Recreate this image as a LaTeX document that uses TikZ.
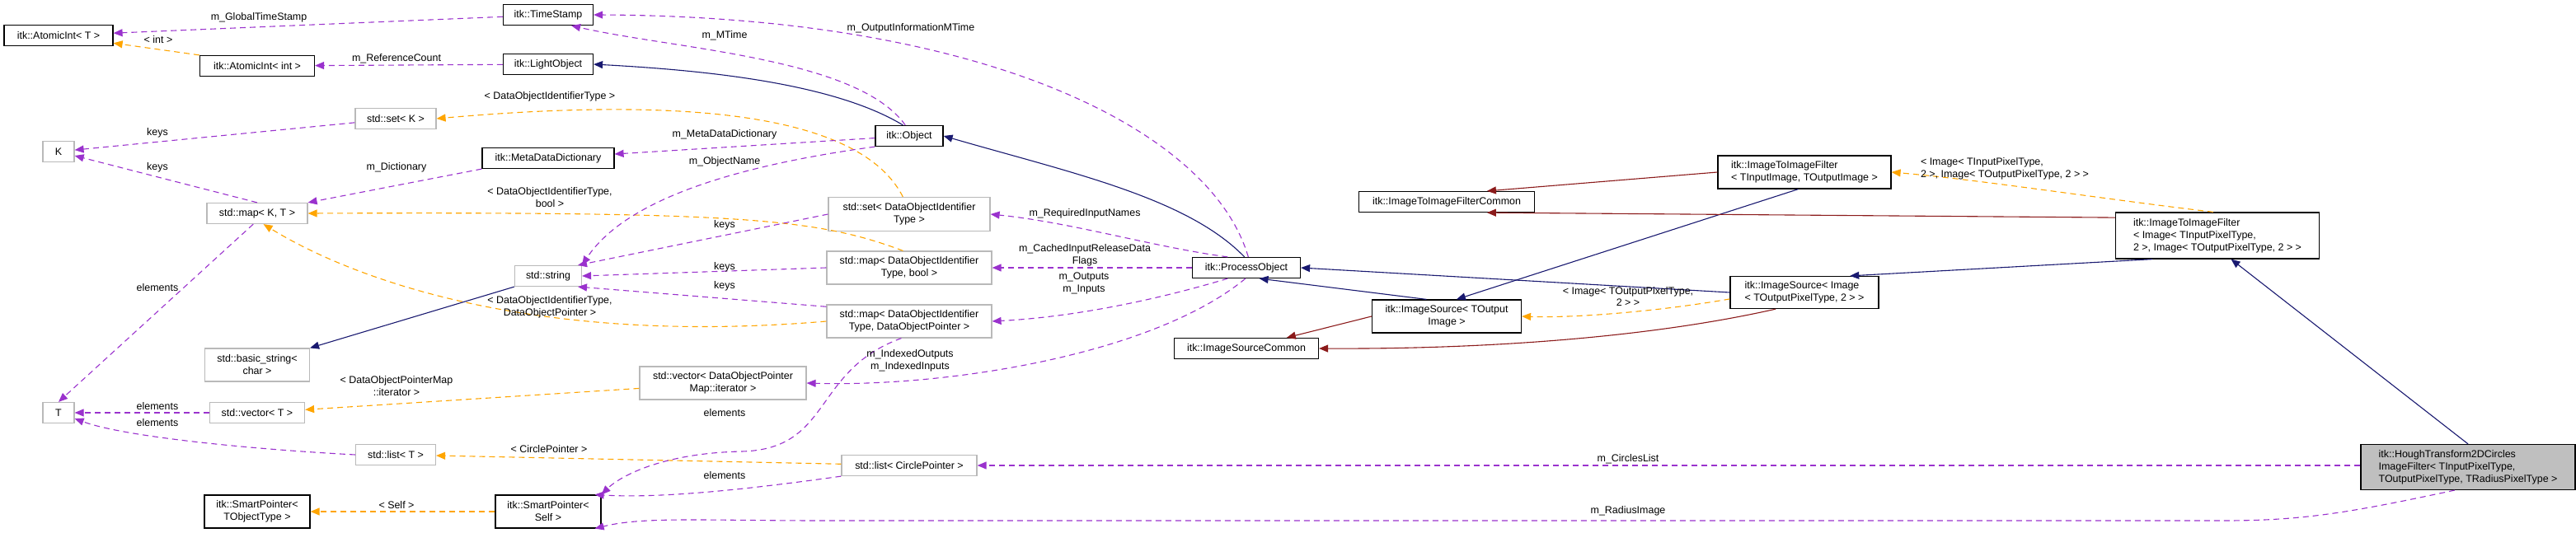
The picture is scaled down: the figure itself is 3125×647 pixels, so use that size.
\documentclass[tikz,border=0pt]{standalone}
\usepackage{fontspec}
\setmainfont{Liberation Sans}
\usetikzlibrary{arrows.meta}
\begin{document}
\begin{tikzpicture}[x=1bp,y=-1bp,
  every node/.style={font=\fontsize{12.5}{15}\selectfont},
  box/.style={draw=black,line width=1.2bp,inner sep=2bp,minimum height=25bp},
  sbox/.style={draw=gray!55,line width=1.2bp,inner sep=2bp,minimum height=25bp},
  lbl/.style={inner sep=0pt,align=center},
  tip/.style={-{Triangle[length=11bp,width=9bp]}},
  pur/.style={tip,draw={rgb,255:red,154;green,50;blue,205},dash pattern=on 7bp off 5bp,line width=1.1bp},
  ora/.style={tip,draw={rgb,255:red,255;green,165;blue,0},dash pattern=on 7bp off 5bp,line width=1.1bp},
  nav/.style={tip,draw={rgb,255:red,25;green,25;blue,112},line width=1.1bp},
  red/.style={tip,draw={rgb,255:red,139;green,26;blue,26},line width=1.1bp}]
\useasboundingbox (0,0) rectangle (3125,647);
% nodes
\node[box,minimum width=132bp] (aiT) at (71,43) {itk::AtomicInt< T >};
\node[box,minimum width=139bp] (aiI) at (312,80) {itk::AtomicInt< int >};
\node[box,minimum width=109bp] (ts) at (665,18) {itk::TimeStamp};
\node[box,minimum width=109bp] (lo) at (665,78) {itk::LightObject};
\node[sbox,minimum width=98bp] (setK) at (480,144) {std::set< K >};
\node[sbox,minimum width=38bp] (K) at (71,184) {K};
\node[box,minimum width=160bp] (mdd) at (665,192) {itk::MetaDataDictionary};
\node[sbox,minimum width=122bp] (mapKT) at (312,259) {std::map< K, T >};
\node[sbox,minimum width=81bp] (str) at (665,335) {std::string};
\node[sbox,minimum width=127bp,minimum height=40bp,align=center] (bs) at (312,443) {std::basic\_string<\\char >};
\node[sbox,minimum width=38bp] (T) at (71,501) {T};
\node[sbox,minimum width=115bp] (vecT) at (312,501) {std::vector< T >};
\node[sbox,minimum width=97bp] (listT) at (480,552) {std::list< T >};
\node[box,minimum width=128bp,minimum height=40bp,align=center] (spT) at (312,621) {itk::SmartPointer<\\TObjectType >};
\node[box,minimum width=128bp,minimum height=40bp,align=center] (spS) at (665,621) {itk::SmartPointer<\\Self >};
\node[box,minimum width=82bp] (obj) at (1103,165) {itk::Object};
\node[sbox,minimum width=196bp,minimum height=41bp,align=center] (setD) at (1103,260) {std::set< DataObjectIdentifier\\Type >};
\node[sbox,minimum width=200bp,minimum height=40bp,align=center] (mapB) at (1103,325) {std::map< DataObjectIdentifier\\Type, bool >};
\node[sbox,minimum width=200bp,minimum height=40bp,align=center] (mapP) at (1103,390) {std::map< DataObjectIdentifier\\Type, DataObjectPointer >};
\node[sbox,minimum width=202bp,minimum height=40bp,align=center] (vecD) at (877,465) {std::vector< DataObjectPointer\\Map::iterator >};
\node[sbox,minimum width=164bp] (listC) at (1103,565) {std::list< CirclePointer >};
\node[box,minimum width=131bp] (po) at (1512,325) {itk::ProcessObject};
\node[box,minimum width=175bp] (isc) at (1512,423) {itk::ImageSourceCommon};
\node[box,minimum width=213bp] (ific) at (1755,245) {itk::ImageToImageFilterCommon};
\node[box,minimum width=210bp,minimum height=40bp,align=left] (ifT) at (2189,209) {itk::ImageToImageFilter\\< TInputImage, TOutputImage >};
\node[box,minimum width=180bp,minimum height=39bp,align=left] (isI) at (2189,355) {itk::ImageSource< Image\\< TOutputPixelType, 2 > >};
\node[box,minimum width=181bp,minimum height=40bp,align=center] (isT) at (1755,384) {itk::ImageSource< TOutput\\Image >};
\node[box,minimum width=247bp,minimum height=56bp,align=left] (ifI) at (2690,286) {itk::ImageToImageFilter\\< Image< TInputPixelType,\\ 2 >, Image< TOutputPixelType, 2 > >};
\node[box,fill=gray!50,minimum width=260bp,minimum height=55bp,align=left] (hg) at (2994,567) {itk::HoughTransform2DCircles\\ImageFilter< TInputPixelType,\\ TOutputPixelType, TRadiusPixelType >};
% edges
\draw[pur] (ts) -- (aiT);
\draw[ora] (aiI.north west) -- (aiT);
\draw[pur] (lo) -- (aiI);
\draw[pur] (obj.110) .. controls (1040,70) and (820,60) .. (ts.-25);
\draw[pur] (po.80) .. controls (1470,160) and (1200,20) .. (ts.east);
\draw[nav] (obj.120) .. controls (1010,100) and (850,85) .. (lo.east);
\draw[nav] (po.100) .. controls (1440,240) and (1300,210) .. (obj.east);
\draw[ora] (setD.110) .. controls (1040,130) and (800,120) .. (setK.east);
\draw[pur] (setK) -- (K);
\draw[pur] (mapKT.north) -- (K);
\draw[pur] (obj) -- (mdd);
\draw[pur] (mdd.south west) -- (mapKT.north east);
\draw[ora] (mapB.110) .. controls (990,265) and (900,257) .. (mapKT.east);
\draw[ora] (mapP.west) .. controls (650,420) and (430,340) .. (mapKT.-60);
\draw[pur] (obj.south west) .. controls (900,200) and (760,240) .. (str.north east);
\draw[pur] (setD.west) -- (str.20);
\draw[pur] (mapB.west) -- (str.east);
\draw[pur] (mapP.170) -- (str.-20);
\draw[nav] (str.south west) -- (bs.north east);
\draw[pur] (mapKT.-110) -- (T.north);
\draw[pur] (vecT) -- (T);
\draw[pur] (listT.west) .. controls (300,545) and (150,530) .. (T.-20);
\draw[ora] (vecD) -- (vecT);
\draw[ora] (listC) -- (listT);
\draw[ora] (spS) -- (spT);
\draw[pur] (mapP.-115) .. controls (985,450) and (1010,545) .. (900,548) .. controls (800,550) and (750,580) .. (spS.north east);
\draw[pur] (listC.south west) .. controls (900,595) and (800,605) .. (spS.20);
\draw[pur] (hg.-120) .. controls (2860,620) and (2800,632) .. (2700,632) -- (1000,632) .. controls (850,632) and (780,627) .. (spS.-20);
\draw[pur] (po.150) .. controls (1400,300) and (1300,270) .. (setD.east);
\draw[pur] (po) -- (mapB);
\draw[pur] (po.-150) .. controls (1400,365) and (1300,385) .. (mapP.east);
\draw[pur] (po.-95) .. controls (1400,430) and (1150,470) .. (vecD.east);
\draw[pur] (hg.west |- listC) -- (listC);
\draw[nav] (isT.140) -- (po.-40);
\draw[nav] (isI.west) -- (po.east);
\draw[red] (isT.west) -- (isc.15);
\draw[red] (isI.-150) .. controls (2000,410) and (1800,424) .. (isc.east);
\draw[nav] (ifT.-110) -- (isT.60);
\draw[ora] (isI.-175) .. controls (2000,380) and (1900,386) .. (isT.east);
\draw[red] (ifT.west) -- (ific.15);
\draw[red] (ifI.170) -- (ific.-15);
\draw[ora] (ifI.100) .. controls (2540,240) and (2400,218) .. (ifT.east);
\draw[nav] (ifI.-160) -- (isI.20);
\draw[nav] (hg.north) -- (ifI.-60);
% labels
\node[lbl] (l1) at (314,21) {m\_GlobalTimeStamp};
\node[lbl] (l2) at (192,48) {< int >};
\node[lbl] (l3) at (481,71) {m\_ReferenceCount};
\node[lbl] (l4) at (667,117) {< DataObjectIdentifierType >};
\node[lbl] (l5) at (191,161) {keys};
\node[lbl] (l6) at (191,203) {keys};
\node[lbl] (l7) at (481,203) {m\_Dictionary};
\node[lbl] (l8) at (667,240) {< DataObjectIdentifierType,\\bool >};
\node[lbl] (l9) at (191,349) {elements};
\node[lbl] (l10) at (667,373) {< DataObjectIdentifierType,\\DataObjectPointer >};
\node[lbl] (l11) at (481,469) {< DataObjectPointerMap\\::iterator >};
\node[lbl] (l12) at (191,493) {elements};
\node[lbl] (l13) at (191,513) {elements};
\node[lbl] (l14) at (666,545) {< CirclePointer >};
\node[lbl] (l15) at (481,613) {< Self >};
\node[lbl] (l16) at (1105,34) {m\_OutputInformationMTime};
\node[lbl] (l17) at (879,43) {m\_MTime};
\node[lbl] (l18) at (879,163) {m\_MetaDataDictionary};
\node[lbl] (l19) at (879,196) {m\_ObjectName};
\node[lbl] (l20) at (879,273) {keys};
\node[lbl] (l21) at (879,324) {keys};
\node[lbl] (l22) at (879,347) {keys};
\node[lbl] (l23) at (1316,259) {m\_RequiredInputNames};
\node[lbl] (l24) at (1316,310) {m\_CachedInputReleaseData\\Flags};
\node[lbl] (l25) at (1315,344) {m\_Outputs\\m\_Inputs};
\node[lbl] (l26) at (1104,438) {m\_IndexedOutputs\\m\_IndexedInputs};
\node[lbl] (l27) at (879,501) {elements};
\node[lbl] (l28) at (879,577) {elements};
\node[lbl] (l29) at (1975,557) {m\_CirclesList};
\node[lbl] (l30) at (1975,620) {m\_RadiusImage};
\node[lbl] (l31) at (1975,360) {< Image< TOutputPixelType,\\2 > >};
\node[lbl,align=left] (l32) at (2432,205) {< Image< TInputPixelType,\\2 >, Image< TOutputPixelType, 2 > >};
\end{tikzpicture}
\end{document}
